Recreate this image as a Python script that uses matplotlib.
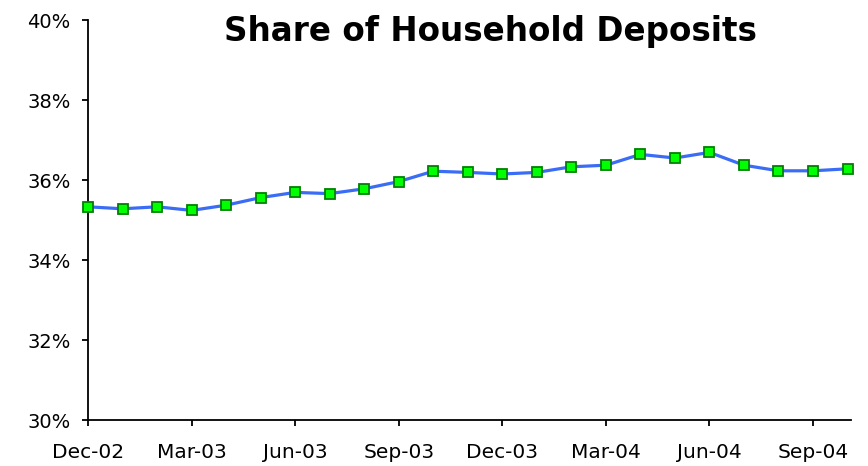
import matplotlib
matplotlib.use("Agg")
import matplotlib.pyplot as plt
from matplotlib.ticker import FuncFormatter

months = ["Dec-02", "Jan-03", "Feb-03", "Mar-03", "Apr-03", "May-03", "Jun-03", "Jul-03",
          "Aug-03", "Sep-03", "Oct-03", "Nov-03", "Dec-03", "Jan-04", "Feb-04", "Mar-04",
          "Apr-04", "May-04", "Jun-04", "Jul-04", "Aug-04", "Sep-04", "Oct-04"]
share = [35.33, 35.28, 35.33, 35.24, 35.37, 35.56, 35.69, 35.66, 35.78, 35.96, 36.22, 36.19,
         36.15, 36.19, 36.33, 36.37, 36.64, 36.55, 36.69, 36.37, 36.23, 36.23, 36.28]
tick_labels = ["Dec-02", "Mar-03", "Jun-03", "Sep-03", "Dec-03", "Mar-04", "Jun-04", "Sep-04"]
y_ticks = [30, 32, 34, 36, 38, 40]

fig = plt.figure(figsize=(8.68, 4.66), dpi=100)
ax = fig.add_axes([88/868, 1-420/466, (851-88)/868, 400/466])

x = list(range(len(months)))
ax.plot(x, share, color="#3b6cf5", lw=2.3, marker="s", markersize=7.3,
        markerfacecolor="#00ff00", markeredgecolor="#008000", markeredgewidth=1.3,
        clip_on=False, zorder=3)

ax.set_xlim(0, 22.1)
ax.set_ylim(30, 40)
ax.set_yticks(y_ticks)
ax.yaxis.set_major_formatter(FuncFormatter(lambda v, p: f"{v:.0f}%"))
ax.set_xticks([months.index(t) for t in tick_labels])
ax.set_xticklabels(tick_labels)

for s in ["top", "right"]:
    ax.spines[s].set_visible(False)
for s in ["left", "bottom"]:
    ax.spines[s].set_linewidth(1.3)
    ax.spines[s].set_color("black")
ax.tick_params(axis="both", direction="out", length=4.5, width=1.3, colors="black")
ax.tick_params(axis="x", pad=12, labelsize=14.5)
ax.tick_params(axis="y", pad=8, labelsize=14)

fig.text(490/868, 1-31/466, "Share of Household Deposits", ha="center", va="center",
         fontsize=23.5, fontweight="bold")

fig.savefig("out.png", dpi=100)
